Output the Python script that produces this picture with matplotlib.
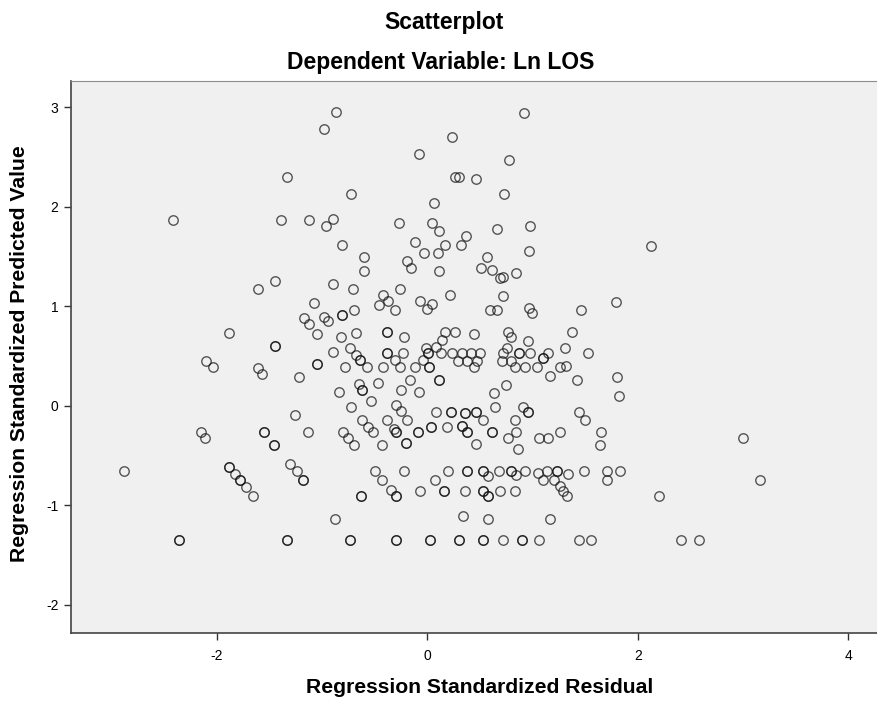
import matplotlib
matplotlib.use("Agg")
import matplotlib.pyplot as plt

plt.rcParams['font.family'] = ['Liberation Sans', 'DejaVu Sans']
plt.rcParams['axes.unicode_minus'] = False

# (standardized residual, standardized predicted value)
upper_pts = [
    (-0.87, 2.95), (-0.98, 2.78), (-1.33, 2.30), (-2.42, 1.87), (-1.39, 1.87), (-1.12, 1.87),
    (-0.90, 1.88), (-0.96, 1.81), (-0.81, 1.62), (-1.45, 1.25), (-1.61, 1.17), (-0.90, 1.22),
    (-1.08, 1.03), (0.92, 2.94), (0.24, 2.70), (-0.08, 2.53), (0.78, 2.47), (0.26, 2.30),
    (0.30, 2.30), (0.46, 2.28), (-0.72, 2.13), (0.73, 2.13), (0.06, 2.04), (-0.27, 1.84),
    (0.05, 1.84), (0.11, 1.76), (0.66, 1.78), (0.98, 1.81), (-0.12, 1.65), (0.17, 1.62),
    (0.37, 1.71), (0.32, 1.62), (0.97, 1.56), (-0.60, 1.49), (-0.60, 1.35), (-0.03, 1.53),
    (0.10, 1.53), (-0.19, 1.45), (-0.15, 1.38), (0.11, 1.35), (0.57, 1.49), (0.51, 1.38),
    (0.62, 1.36), (0.69, 1.28), (0.72, 1.29), (0.84, 1.33), (-0.71, 1.17), (-0.26, 1.17),
    (-0.42, 1.11), (-0.46, 1.01), (-0.37, 1.05), (-0.07, 1.05), (0.05, 1.02), (0.22, 1.11),
    (0.72, 1.10), (2.13, 1.61), (1.79, 1.04),
]

middle_pts = [
    (-1.17, 0.88), (-1.12, 0.82), (-0.98, 0.89), (-0.94, 0.85), (-0.81, 0.91), (-1.05, 0.72),
    (-0.82, 0.69), (-1.88, 0.73), (-1.45, 0.60), (-0.90, 0.54), (-1.05, 0.42), (-2.10, 0.45),
    (-2.04, 0.39), (-1.61, 0.38), (-1.57, 0.32), (-1.22, 0.29), (-0.84, 0.14),
    (-0.31, 0.96), (0.00, 0.97), (0.60, 0.96), (0.66, 0.96), (0.97, 0.98), (1.00, 0.93),
    (1.46, 0.96), (-0.70, 0.96), (-0.68, 0.73), (-0.38, 0.74), (-0.22, 0.69), (0.17, 0.74),
    (0.26, 0.74), (0.14, 0.66), (0.44, 0.72), (0.77, 0.74), (0.80, 0.69), (0.96, 0.65),
    (1.38, 0.74), (1.31, 0.58), (1.53, 0.53), (-0.73, 0.58), (-0.68, 0.51), (-0.64, 0.46),
    (-0.38, 0.53), (-0.23, 0.53), (-0.31, 0.46), (-0.01, 0.58), (0.01, 0.53), (-0.04, 0.46),
    (0.08, 0.59), (0.13, 0.53), (0.24, 0.53), (0.33, 0.53), (0.42, 0.53), (0.50, 0.53),
    (0.29, 0.45), (0.38, 0.45), (0.47, 0.45), (0.72, 0.53), (0.76, 0.58), (0.87, 0.53),
    (0.98, 0.53), (0.80, 0.45), (0.71, 0.45), (1.10, 0.48), (1.15, 0.53), (-0.78, 0.39),
    (-0.57, 0.39), (-0.42, 0.39), (-0.26, 0.39), (-0.12, 0.39), (0.02, 0.39), (0.44, 0.39),
    (0.83, 0.39), (0.93, 0.39), (1.04, 0.39), (1.26, 0.39), (1.32, 0.40), (1.17, 0.30),
    (1.42, 0.26), (0.11, 0.26), (-0.16, 0.26), (-0.25, 0.16), (-0.08, 0.14), (-0.47, 0.23),
    (-0.65, 0.22), (-0.62, 0.16), (-0.53, 0.05), (0.63, 0.13), (0.75, 0.21), (-0.30, 0.01),
    (1.80, 0.29), (1.82, 0.10),
]

lower_pts = [
    (-1.26, -0.09), (-1.13, -0.26), (-1.55, -0.26), (-1.46, -0.39), (-2.15, -0.26), (-2.11, -0.32),
    (-2.88, -0.66), (-1.88, -0.62), (-1.83, -0.69), (-1.78, -0.75), (-1.72, -0.82), (-1.66, -0.91),
    (-1.30, -0.59), (-1.24, -0.66), (-1.18, -0.75), (-0.88, -1.14),
    (-0.72, -0.01), (-0.25, -0.05), (-0.19, -0.14), (-0.38, -0.14), (-0.62, -0.14), (-0.56, -0.21),
    (-0.52, -0.26), (-0.80, -0.26), (-0.75, -0.32), (-0.70, -0.39), (-0.43, -0.39), (-0.32, -0.23),
    (-0.30, -0.26), (-0.20, -0.37), (-0.09, -0.26), (0.04, -0.21), (0.08, -0.06), (0.19, -0.21),
    (0.23, -0.06), (0.33, -0.20), (0.38, -0.26), (0.36, -0.07), (0.46, -0.06), (0.53, -0.14),
    (0.46, -0.38), (0.62, -0.26), (0.64, -0.01), (0.77, -0.32), (0.83, -0.14), (0.84, -0.26),
    (0.86, -0.43), (0.91, -0.01), (0.96, -0.06), (1.06, -0.32), (1.15, -0.32), (1.26, -0.26),
    (1.44, -0.06), (1.50, -0.14), (1.65, -0.26), (1.64, -0.39),
    (-0.50, -0.66), (-0.43, -0.75), (-0.22, -0.66), (-0.34, -0.85), (-0.30, -0.91), (-0.63, -0.91),
    (-0.07, -0.86), (0.07, -0.75), (0.20, -0.66), (0.16, -0.86), (0.36, -0.86), (0.38, -0.66),
    (0.53, -0.66), (0.58, -0.71), (0.53, -0.86), (0.58, -0.91), (0.69, -0.86), (0.68, -0.66),
    (0.80, -0.66), (0.84, -0.70), (0.83, -0.86), (0.93, -0.66), (1.05, -0.68), (1.10, -0.75),
    (1.14, -0.66), (1.23, -0.66), (1.20, -0.75), (1.26, -0.81), (1.29, -0.86), (1.33, -0.91),
    (1.34, -0.69), (1.49, -0.66), (1.71, -0.66), (1.71, -0.75), (1.83, -0.66), (3.00, -0.32),
    (3.16, -0.75), (2.20, -0.91), (0.34, -1.11), (0.58, -1.14), (1.17, -1.14),
]

# lowest predicted value row
bottom_y = -1.35
bottom_x = [-2.36, -1.33, -0.73, -0.30, 0.03, 0.30, 0.53, 0.72, 0.90, 1.06, 1.44, 1.56, 2.41, 2.58]

# cases that sit exactly on top of another one (drawn darker in the original)
stacked_pts = [
    (-0.81, 0.91), (-1.45, 0.60), (-1.05, 0.42), (-1.55, -0.26), (-1.46, -0.39), (-1.88, -0.62),
    (-1.78, -0.75), (-1.18, -0.75), (-2.36, -1.35), (-1.33, -1.35), (-0.38, 0.74), (-0.64, 0.46),
    (-0.38, 0.53), (0.01, 0.53), (0.87, 0.53), (1.10, 0.48), (0.02, 0.39), (0.11, 0.26),
    (-0.62, 0.16), (-0.30, -0.26), (-0.20, -0.37), (-0.09, -0.26), (0.04, -0.21), (0.23, -0.06),
    (0.33, -0.20), (0.38, -0.26), (0.36, -0.07), (0.46, -0.06), (0.62, -0.26), (0.96, -0.06),
    (-0.30, -0.91), (-0.63, -0.91), (0.16, -0.86), (0.38, -0.66), (0.53, -0.66), (0.53, -0.86),
    (0.58, -0.91), (0.80, -0.66), (1.23, -0.66), (-0.73, -1.35), (-0.30, -1.35), (0.03, -1.35),
    (0.30, -1.35), (0.53, -1.35), (0.90, -1.35),
]

x_ticks = [-2, 0, 2, 4]
y_ticks = [-2, -1, 0, 1, 2, 3]

pts = upper_pts + middle_pts + lower_pts + [(x, bottom_y) for x in bottom_x] + stacked_pts
resid = [p[0] for p in pts]
pred = [p[1] for p in pts]

fig = plt.figure(figsize=(8.77, 7.05), dpi=100)
ax = fig.add_axes([71 / 877, 1 - 632.7 / 705, 1 - 71 / 877, (632.7 - 81) / 705])
ax.set_facecolor('#f0f0f0')

ax.plot(resid, pred, linestyle='none', marker='o', markersize=6.8,
        markerfacecolor='none', markeredgecolor='#111111', markeredgewidth=1.0, alpha=0.7)

ax.set_xlim(-3.385, 4.274)
ax.set_ylim(-2.28, 3.263)
ax.set_xticks(x_ticks)
ax.set_yticks(y_ticks)
ax.tick_params(axis='both', direction='out', length=5, width=1, color='#333333', labelsize=10)
ax.tick_params(axis='x', pad=7)
ax.tick_params(axis='y', pad=4)
for side in ['left', 'bottom']:
    ax.spines[side].set_color('#444444')
    ax.spines[side].set_linewidth(1.2)
ax.spines['top'].set_color('#8c8c8c')
ax.spines['right'].set_visible(False)

fig.text(0.506, 1 - 28.5 / 705, 'Scatterplot', ha='center', va='baseline',
         fontsize=16.5, fontweight='bold')
fig.text(0.503, 1 - 68.5 / 705, 'Dependent Variable: Ln LOS', ha='center', va='baseline',
         fontsize=16.5, fontweight='bold')
fig.text(480 / 877, 1 - 693 / 705, 'Regression Standardized Residual', ha='center',
         va='baseline', fontsize=15.2, fontweight='bold')
fig.text(20 / 877, 1 - 354 / 705, 'Regression Standardized Predicted Value', ha='center',
         va='center', rotation=90, fontsize=15.2, fontweight='bold')

fig.savefig('out.png', dpi=100)
